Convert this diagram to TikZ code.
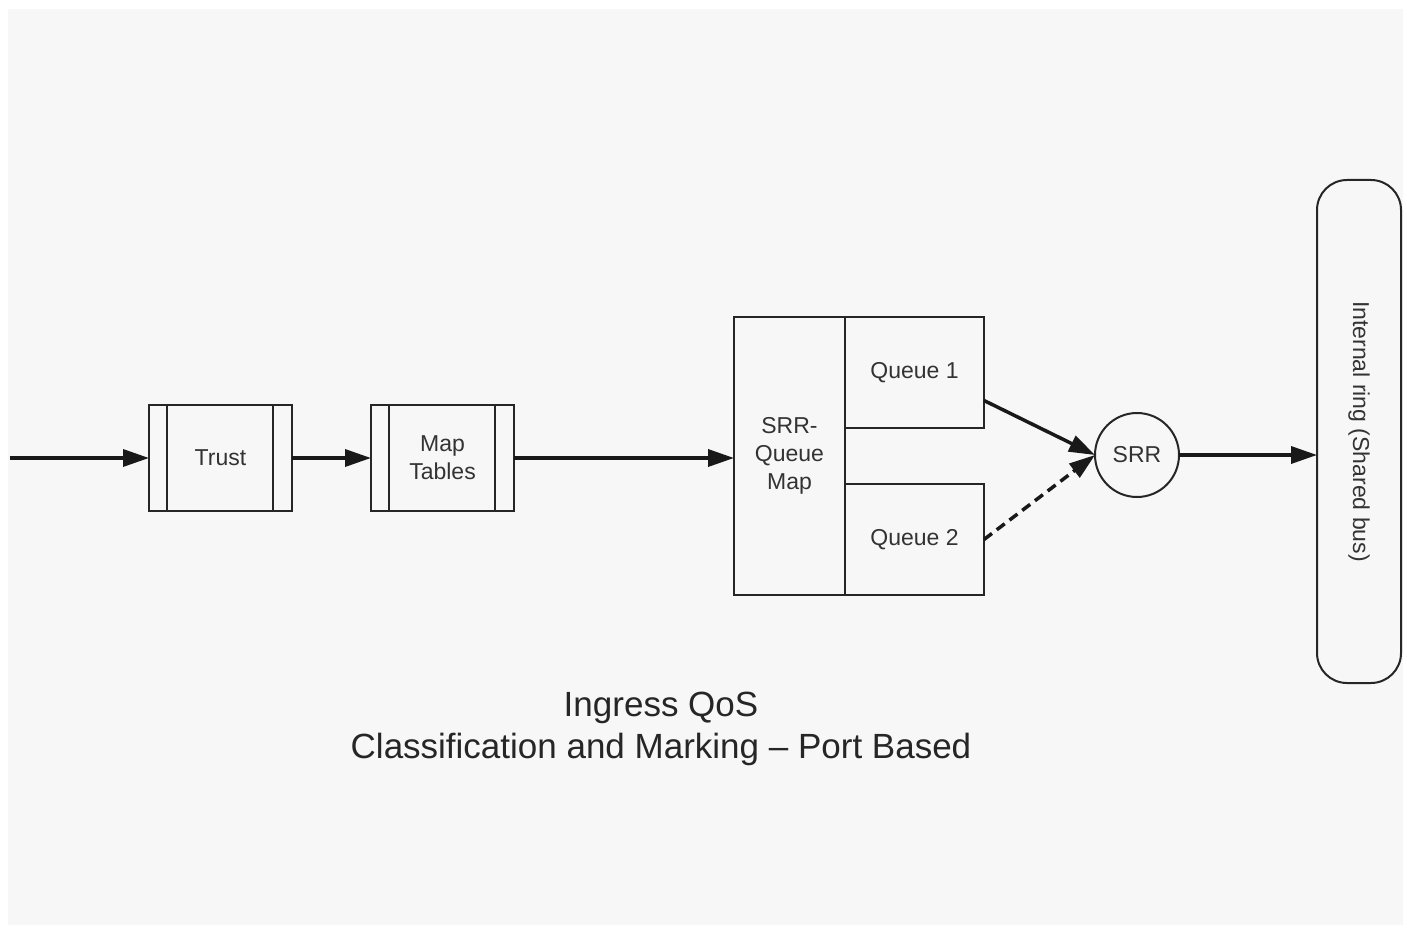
\documentclass[tikz,border=0pt]{standalone}
\usepackage{fontspec}
\setmainfont{Liberation Sans}
\usetikzlibrary{arrows.meta,positioning}
\newcommand\boxfont{\fontsize{23}{28}\selectfont}
\newcommand\capfont{\fontsize{35}{42}\selectfont}

\begin{document}
\begin{tikzpicture}[
    x=1pt, y=-1pt,
    node distance=79pt,
    proc/.style={rectangle, draw=black!85, line width=2.5pt, minimum width=143pt, minimum height=106pt, inner sep=0pt, outer sep=0pt, font=\boxfont, align=center, text=black!80},
    qbox/.style={rectangle, draw=black!85, line width=2.5pt, minimum width=139pt, minimum height=111pt, inner sep=0pt, outer sep=0pt, font=\boxfont, text=black!80},
    flow/.style={-{Triangle[length=26pt, width=17pt]}, line width=3.5pt, black!90},
]
    \useasboundingbox (0,0) rectangle (1407,928);
    \fill[black!3] (8,9) rectangle (1403,925);

    \coordinate (in) at (10,458);
    \node[proc] (trust) at (220.5,458) {Trust};
    \node[proc, right=of trust] (maptab) {Map\\Tables};
    \node[proc, minimum width=111pt, minimum height=278pt] (qmap) at (789.5,456) {SRR-\\Queue\\Map};
    \node[qbox, anchor=north west] (q1) at (qmap.north east) {Queue 1};
    \node[qbox, anchor=south west] (q2) at (qmap.south east) {Queue 2};
    \node[circle, draw=black!85, line width=2pt, minimum size=84pt, inner sep=0pt, outer sep=0pt, font=\boxfont, text=black!80] (srr) at (1137,455) {SRR};
    \node[rectangle, rounded corners=30pt, draw=black!85, line width=2pt, minimum width=84pt, minimum height=503pt, inner sep=0pt, outer sep=0pt] (bus) at (1359,431.5) {};
    \node[rotate=-90, font=\boxfont, text=black!80] (buslabel) at (bus.center) {Internal ring (Shared bus)};

    \foreach \n in {trust,maptab} {
        \draw[line width=2.5pt, black!85] ([xshift=18pt]\n.north west) -- ([xshift=18pt]\n.south west);
        \draw[line width=2.5pt, black!85] ([xshift=-19pt]\n.north east) -- ([xshift=-19pt]\n.south east);
    }

    \draw[flow] (in) -- (trust);
    \draw[flow] (trust) -- (maptab);
    \draw[flow] (maptab.east) -- (maptab.east -| qmap.west);
    \draw[flow] ([yshift=-28pt]q1.east) -- (srr.west);
    \draw[flow, dash pattern=on 10pt off 6pt] (q2.east) -- (srr.west);
    \draw[flow] (srr.east) -- (srr.east -| bus.west);

    \node[font=\capfont, align=center, text=black!85] (title) at (661,729) {Ingress QoS\\Classification and Marking – Port Based};
\end{tikzpicture}
\end{document}
